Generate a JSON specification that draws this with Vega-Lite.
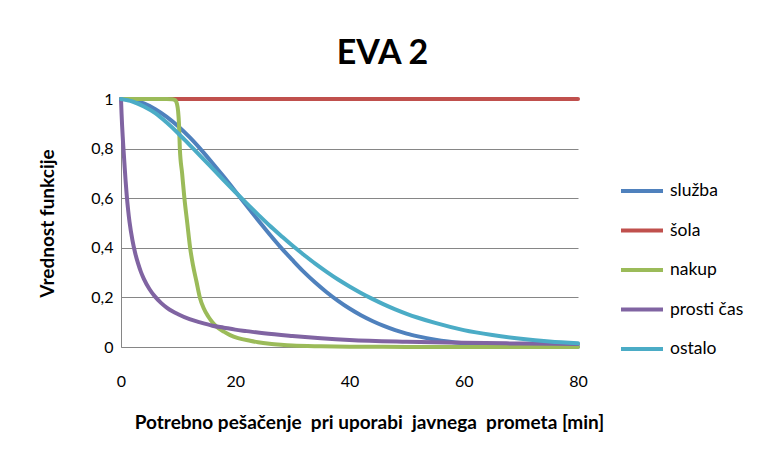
{
  "$schema": "https://vega.github.io/schema/vega-lite/v6.json",
  "autosize": {"type": "none"},
  "padding": {"left": 121, "top": 99, "right": 184, "bottom": 107},
  "width": 457,
  "height": 248,
  "background": "white",
  "title": {"text": "EVA 2", "font": "Lato", "fontSize": 34, "fontWeight": "bold", "color": "#000000", "anchor": "middle", "frame": "group", "dx": 33, "offset": 20},
  "config": {"view": {"stroke": null}, "font": "Lato"},
  "data": {"values": [
    {"s": "služba", "x": 0, "y": 1}, {"s": "služba", "x": 2, "y": 0.995}, {"s": "služba", "x": 4, "y": 0.982}, {"s": "služba", "x": 6, "y": 0.959}, {"s": "služba", "x": 8, "y": 0.928}, {"s": "služba", "x": 10, "y": 0.89}, {"s": "služba", "x": 12, "y": 0.846}, {"s": "služba", "x": 14, "y": 0.796}, {"s": "služba", "x": 16, "y": 0.742}, {"s": "služba", "x": 18, "y": 0.686}, {"s": "služba", "x": 20, "y": 0.628}, {"s": "služba", "x": 22, "y": 0.569}, {"s": "služba", "x": 24, "y": 0.511}, {"s": "služba", "x": 26, "y": 0.455}, {"s": "služba", "x": 28, "y": 0.401}, {"s": "služba", "x": 30, "y": 0.351}, {"s": "služba", "x": 32, "y": 0.303}, {"s": "služba", "x": 34, "y": 0.26}, {"s": "služba", "x": 36, "y": 0.221}, {"s": "služba", "x": 38, "y": 0.186}, {"s": "služba", "x": 40, "y": 0.155}, {"s": "služba", "x": 42, "y": 0.128}, {"s": "služba", "x": 44, "y": 0.105}, {"s": "služba", "x": 46, "y": 0.085}, {"s": "služba", "x": 48, "y": 0.068}, {"s": "služba", "x": 50, "y": 0.054}, {"s": "služba", "x": 52, "y": 0.043}, {"s": "služba", "x": 55, "y": 0.0295}, {"s": "služba", "x": 60, "y": 0.0151}, {"s": "služba", "x": 65, "y": 0.0073}, {"s": "služba", "x": 70, "y": 0.0033}, {"s": "služba", "x": 75, "y": 0.0014}, {"s": "služba", "x": 80, "y": 0.0006},
    {"s": "šola", "x": 0, "y": 1}, {"s": "šola", "x": 40, "y": 1}, {"s": "šola", "x": 80, "y": 1},
    {"s": "nakup", "x": 0, "y": 1}, {"s": "nakup", "x": 4, "y": 1}, {"s": "nakup", "x": 8, "y": 1}, {"s": "nakup", "x": 9, "y": 0.999}, {"s": "nakup", "x": 9.5, "y": 0.995}, {"s": "nakup", "x": 9.8, "y": 0.98}, {"s": "nakup", "x": 10, "y": 0.95}, {"s": "nakup", "x": 10.15, "y": 0.9}, {"s": "nakup", "x": 10.3, "y": 0.8}, {"s": "nakup", "x": 10.7, "y": 0.7}, {"s": "nakup", "x": 11.1, "y": 0.6}, {"s": "nakup", "x": 11.6, "y": 0.5}, {"s": "nakup", "x": 12.1, "y": 0.4}, {"s": "nakup", "x": 12.6, "y": 0.33}, {"s": "nakup", "x": 13.2, "y": 0.265}, {"s": "nakup", "x": 13.8, "y": 0.2}, {"s": "nakup", "x": 14.5, "y": 0.155}, {"s": "nakup", "x": 15.3, "y": 0.122}, {"s": "nakup", "x": 16, "y": 0.1}, {"s": "nakup", "x": 16.75, "y": 0.082}, {"s": "nakup", "x": 18, "y": 0.062}, {"s": "nakup", "x": 19.1, "y": 0.048}, {"s": "nakup", "x": 20.5, "y": 0.036}, {"s": "nakup", "x": 22.6, "y": 0.025}, {"s": "nakup", "x": 24, "y": 0.019}, {"s": "nakup", "x": 26, "y": 0.013}, {"s": "nakup", "x": 28, "y": 0.009}, {"s": "nakup", "x": 30, "y": 0.006}, {"s": "nakup", "x": 35, "y": 0.003}, {"s": "nakup", "x": 40, "y": 0.0015}, {"s": "nakup", "x": 50, "y": 0.0005}, {"s": "nakup", "x": 60, "y": 0.0002}, {"s": "nakup", "x": 80, "y": 0},
    {"s": "prosti čas", "x": 0, "y": 1}, {"s": "prosti čas", "x": 0.1, "y": 0.94}, {"s": "prosti čas", "x": 0.2, "y": 0.89}, {"s": "prosti čas", "x": 0.3, "y": 0.848}, {"s": "prosti čas", "x": 0.4, "y": 0.81}, {"s": "prosti čas", "x": 0.6, "y": 0.74}, {"s": "prosti čas", "x": 0.8, "y": 0.672}, {"s": "prosti čas", "x": 1, "y": 0.612}, {"s": "prosti čas", "x": 1.25, "y": 0.552}, {"s": "prosti čas", "x": 1.5, "y": 0.503}, {"s": "prosti čas", "x": 2, "y": 0.431}, {"s": "prosti čas", "x": 2.5, "y": 0.377}, {"s": "prosti čas", "x": 3, "y": 0.336}, {"s": "prosti čas", "x": 3.5, "y": 0.302}, {"s": "prosti čas", "x": 4, "y": 0.275}, {"s": "prosti čas", "x": 5, "y": 0.233}, {"s": "prosti čas", "x": 6, "y": 0.202}, {"s": "prosti čas", "x": 7, "y": 0.178}, {"s": "prosti čas", "x": 8, "y": 0.159}, {"s": "prosti čas", "x": 9, "y": 0.144}, {"s": "prosti čas", "x": 10, "y": 0.132}, {"s": "prosti čas", "x": 12, "y": 0.112}, {"s": "prosti čas", "x": 14, "y": 0.098}, {"s": "prosti čas", "x": 16, "y": 0.086}, {"s": "prosti čas", "x": 18, "y": 0.078}, {"s": "prosti čas", "x": 20, "y": 0.07}, {"s": "prosti čas", "x": 22, "y": 0.064}, {"s": "prosti čas", "x": 25, "y": 0.055}, {"s": "prosti čas", "x": 30, "y": 0.044}, {"s": "prosti čas", "x": 35, "y": 0.035}, {"s": "prosti čas", "x": 40, "y": 0.028}, {"s": "prosti čas", "x": 50, "y": 0.021}, {"s": "prosti čas", "x": 60, "y": 0.017}, {"s": "prosti čas", "x": 70, "y": 0.014}, {"s": "prosti čas", "x": 80, "y": 0.012},
    {"s": "ostalo", "x": 0, "y": 1}, {"s": "ostalo", "x": 2, "y": 0.99}, {"s": "ostalo", "x": 4, "y": 0.97}, {"s": "ostalo", "x": 6, "y": 0.943}, {"s": "ostalo", "x": 8, "y": 0.905}, {"s": "ostalo", "x": 10, "y": 0.862}, {"s": "ostalo", "x": 12, "y": 0.815}, {"s": "ostalo", "x": 14, "y": 0.768}, {"s": "ostalo", "x": 16, "y": 0.72}, {"s": "ostalo", "x": 18, "y": 0.672}, {"s": "ostalo", "x": 20, "y": 0.625}, {"s": "ostalo", "x": 22, "y": 0.579}, {"s": "ostalo", "x": 24, "y": 0.534}, {"s": "ostalo", "x": 26, "y": 0.49}, {"s": "ostalo", "x": 28, "y": 0.449}, {"s": "ostalo", "x": 30, "y": 0.409}, {"s": "ostalo", "x": 32, "y": 0.372}, {"s": "ostalo", "x": 34, "y": 0.336}, {"s": "ostalo", "x": 36, "y": 0.303}, {"s": "ostalo", "x": 38, "y": 0.272}, {"s": "ostalo", "x": 40, "y": 0.244}, {"s": "ostalo", "x": 42, "y": 0.218}, {"s": "ostalo", "x": 44, "y": 0.194}, {"s": "ostalo", "x": 46, "y": 0.172}, {"s": "ostalo", "x": 48, "y": 0.152}, {"s": "ostalo", "x": 50, "y": 0.134}, {"s": "ostalo", "x": 52, "y": 0.118}, {"s": "ostalo", "x": 55, "y": 0.097}, {"s": "ostalo", "x": 60, "y": 0.068}, {"s": "ostalo", "x": 65, "y": 0.048}, {"s": "ostalo", "x": 70, "y": 0.033}, {"s": "ostalo", "x": 75, "y": 0.022}, {"s": "ostalo", "x": 80, "y": 0.015}
  ]},
  "mark": {"type": "line", "strokeWidth": 4, "strokeCap": "round", "strokeJoin": "round", "interpolate": "monotone", "clip": false},
  "encoding": {
    "x": {"field": "x", "type": "quantitative", "scale": {"domain": [0, 80], "nice": false},
      "axis": {"values": [0, 20, 40, 60, 80], "title": "Potrebno pešačenje\u00a0 pri uporabi\u00a0 javnega\u00a0 prometa [min]", "grid": false, "ticks": false, "tickSize": 0, "domainColor": "#868686", "domainWidth": 1, "labelFlush": false, "labelFont": "Lato", "labelFontSize": 16, "labelColor": "#000000", "labelPadding": 26, "labelBaseline": "top", "titleFont": "Lato", "titleFontSize": 19, "titleFontWeight": "bold", "titleColor": "#000000", "titleX": 248, "titleY": 75, "titleBaseline": "middle", "titleAnchor": "middle"}},
    "y": {"field": "y", "type": "quantitative", "scale": {"domain": [0, 1], "nice": false},
      "axis": {"values": [0, 0.2, 0.4, 0.6, 0.8, 1], "labelExpr": "replace(format(datum.value, '.1~f'), '.', ',')", "title": "Vrednost funkcije", "grid": true, "gridColor": "#868686", "gridWidth": 1, "ticks": false, "tickSize": 0, "domainColor": "#868686", "domainWidth": 1, "labelFlush": false, "labelFont": "Lato", "labelFontSize": 16, "labelColor": "#000000", "labelPadding": 8, "titleFont": "Lato", "titleFontSize": 19, "titleFontWeight": "bold", "titleColor": "#000000", "titleX": -74, "titleY": 124, "titleAngle": -90, "titleBaseline": "middle", "titleAnchor": "middle"}},
    "color": {"field": "s", "type": "nominal",
      "scale": {"domain": ["služba", "šola", "nakup", "prosti čas", "ostalo"], "range": ["#4F81BD", "#C0504D", "#9BBB59", "#8064A2", "#4BACC6"]},
      "legend": {"title": null, "orient": "none", "legendX": 498, "legendY": 69, "symbolType": "stroke", "symbolSize": 1764, "symbolStrokeWidth": 4, "labelFont": "Lato", "labelFontSize": 17.5, "labelColor": "#000000", "labelOffset": 5, "rowPadding": 7.5}}
  }
}
